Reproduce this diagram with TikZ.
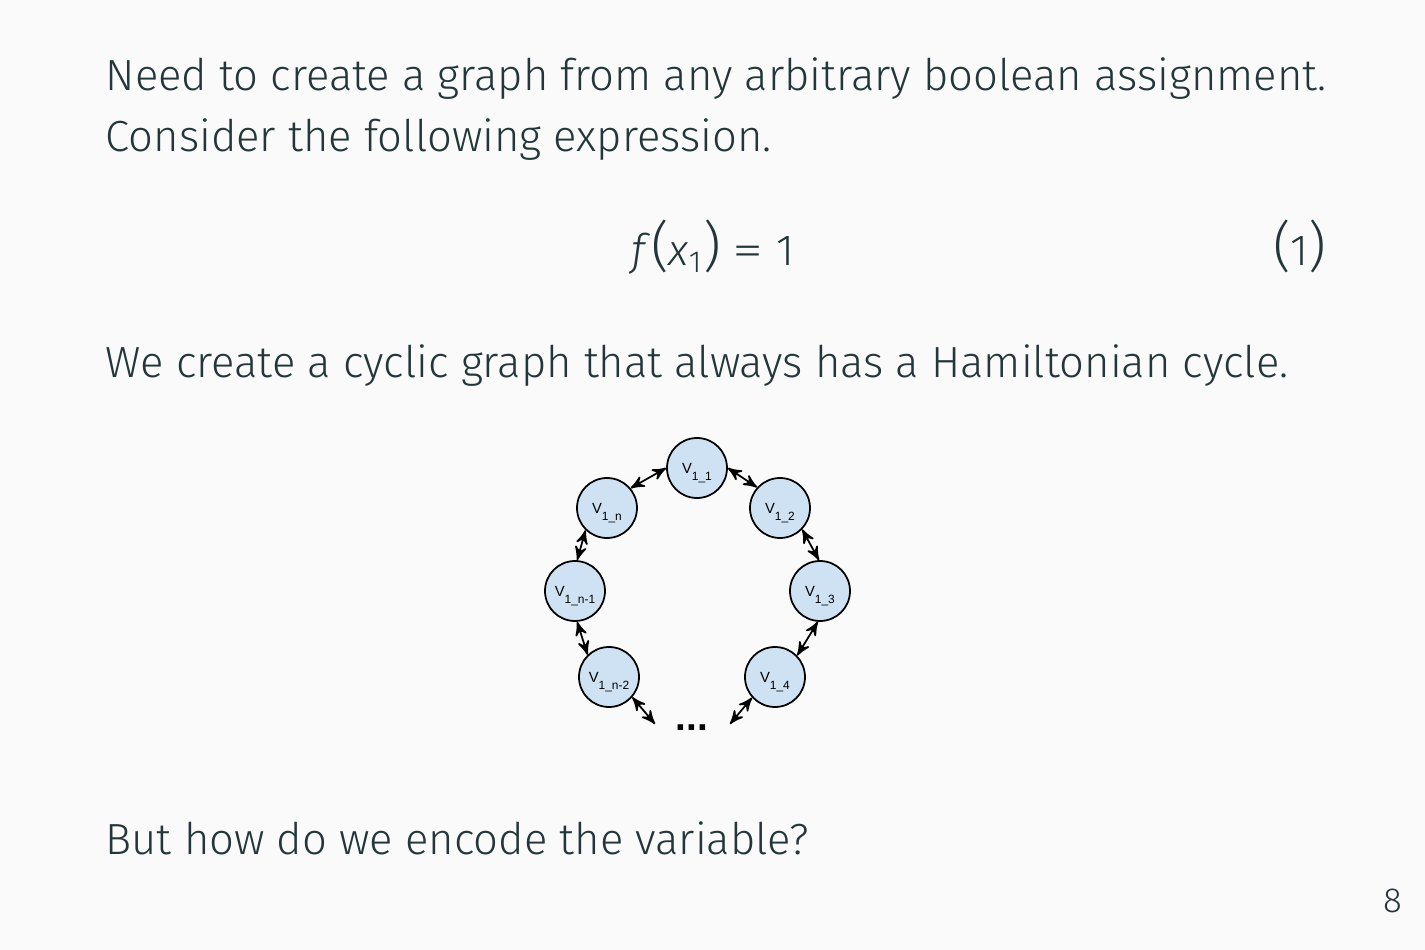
\documentclass[tikz,border=0pt]{standalone}
\usepackage{fontspec}
\setmainfont{Fira Sans Light}[ItalicFont={Fira Sans Light Italic}]
\newfontfamily\arialfont{Liberation Sans}
\usepackage{tikz}
\usetikzlibrary{arrows}
\definecolor{slidebg}{HTML}{FAFAFA}
\definecolor{slidetext}{HTML}{23373B}
\definecolor{vfill}{HTML}{CFE2F3}
\newcommand{\vlabel}[1]{V\raisebox{-2pt}{\fontsize{3.4}{4}\selectfont #1}}
\newcommand{\bigpar}[1]{{\fontsize{15.5}{16}\selectfont #1}}
\tikzset{
  vertex/.style={circle, draw=black, fill=vfill, line width=0.5pt, text depth=0pt,
    minimum size=0.6cm, inner sep=0pt, font=\arialfont\fontsize{4.2}{5}\selectfont},
  line/.style={anchor=base west, inner sep=0pt, text=slidetext,
    font=\fontsize{12.4}{15}\selectfont},
  link/.style={<->, >=stealth', line width=0.5pt}
}

\begin{document}
\begin{tikzpicture}
  \useasboundingbox [fill=slidebg] (0,0) rectangle (14.25,-9.5);
  % slide text
  \node [line] (L1) at (1.05,-0.91) {Need to create a graph from any arbitrary boolean assignment.};
  \node [line] (L2) at (1.05,-1.52) {Consider the following expression.};
  \node [line, anchor=base] (EQ) at (7.13,-2.66)
    {\textit{f}\bigpar{(}\textit{x}\textsubscript{1}\bigpar{)}\;\scalebox{1.45}[1]{=}\;1};
  \node [line, anchor=base east] (EN) at (13.27,-2.66) {\bigpar{(}1\bigpar{)}};
  \node [line] (L3) at (1.05,-3.77) {We create a cyclic graph that always has a Hamiltonian cycle.};
  \node [line] (L4) at (1.05,-8.55) {But how do we encode the variable?};
  \node [line, anchor=base east, font=\fontsize{9.9}{11}\selectfont] (PG) at (14.03,-9.12) {8};

  % the cycle
  \node [vertex] (V1) at (6.97,-4.68) {\vlabel{1\_1}};
  \node [vertex] (V2) at (7.80,-5.08) {\vlabel{1\_2}};
  \node [vertex] (V3) at (8.20,-5.91) {\vlabel{1\_3}};
  \node [vertex] (V4) at (7.75,-6.77) {\vlabel{1\_4}};
  \node [vertex] (Vm) at (6.09,-6.77) {\vlabel{1\_n-2}};
  \node [vertex] (Vk) at (5.75,-5.91) {\vlabel{1\_n-1}};
  \node [vertex] (Vn) at (6.07,-5.08) {\vlabel{1\_n}};
  \node [anchor=base, inner sep=0pt, font=\arialfont\bfseries\fontsize{11}{11}\selectfont]
    (DOTS) at (6.92,-7.30) {...};
  \coordinate (EL) at (6.55,-7.24);
  \coordinate (ER) at (7.30,-7.24);

  \draw [link] (V1.180) -- (Vn.40);
  \draw [link] (V1.0) -- (V2.138);
  \draw [link] (Vn.-134) -- (Vk.86);
  \draw [link] (Vk.-86) -- (Vm.134);
  \draw [link] (Vm.-41) -- (EL);
  \draw [link] (V2.-44) -- (V3.92);
  \draw [link] (V3.-94) -- (V4.44);
  \draw [link] (V4.-138) -- (ER);
\end{tikzpicture}
\end{document}
